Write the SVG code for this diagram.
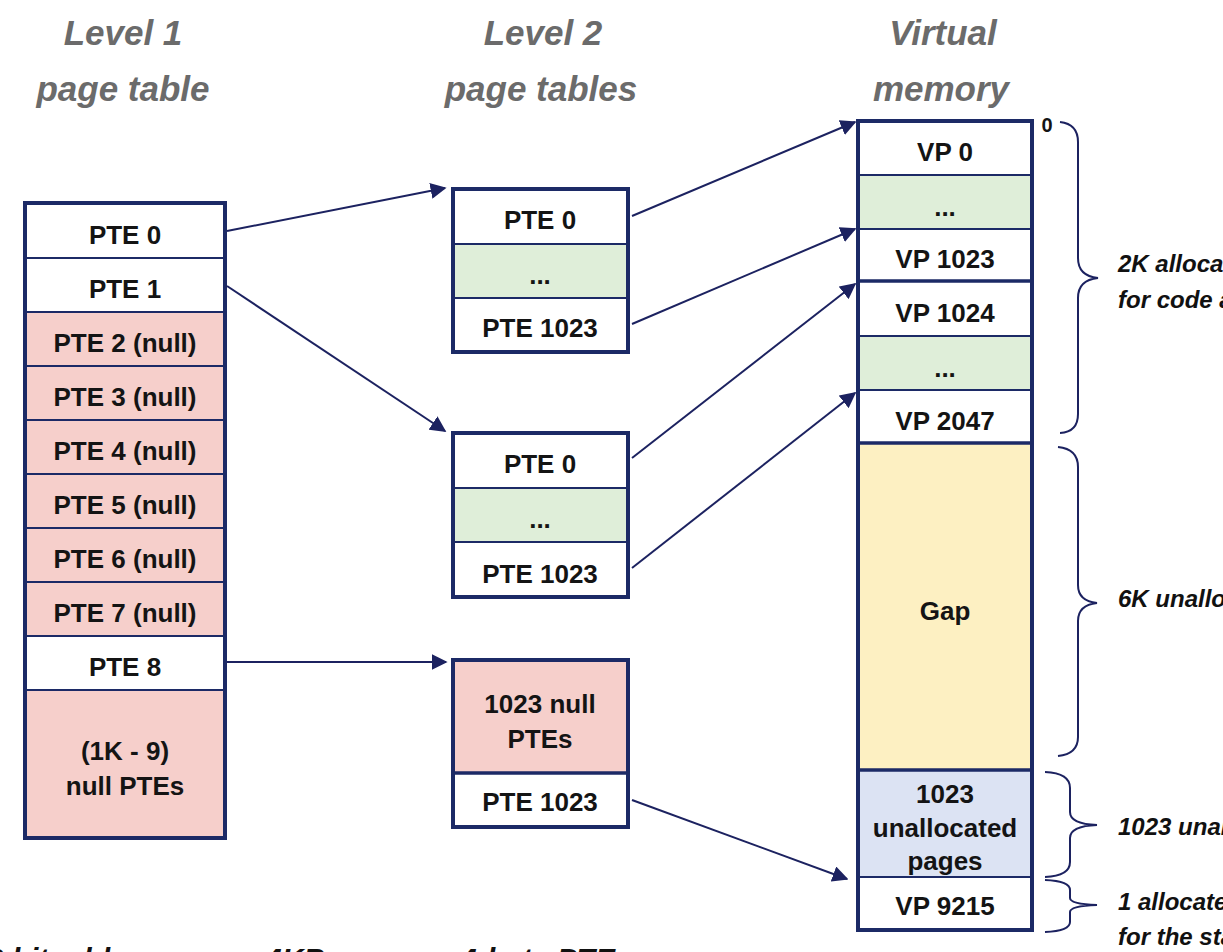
<svg xmlns="http://www.w3.org/2000/svg" width="1223" height="952" viewBox="0 0 1223 952">
<style>
.hdr{font-family:"Liberation Sans",Arial,sans-serif;font-weight:bold;font-style:italic;font-size:35px;fill:#6b6b6b;text-anchor:middle}
.t{font-family:"Liberation Sans",Arial,sans-serif;font-weight:bold;font-size:26px;fill:#141414;text-anchor:middle}
.note{font-family:"Liberation Sans",Arial,sans-serif;font-weight:bold;font-style:italic;font-size:24px;fill:#111}
.cap{font-family:"Liberation Sans",Arial,sans-serif;font-weight:bold;font-style:italic;font-size:30px;fill:#111}
.w{fill:#ffffff}
.p{fill:#f6cfcb}
.g{fill:#dfeed9}
.y{fill:#fdf0c2}
.b{fill:#dce3f3}
.div{stroke:#1c2a66;stroke-width:2}
.thick{stroke:#1c2a66;stroke-width:3.5}
.box{fill:none;stroke:#1c2a66;stroke-width:4}
.arr{stroke:#1c2260;stroke-width:2;fill:none;marker-end:url(#ah)}
.brace{stroke:#1c2260;stroke-width:2;fill:none}
</style>
<defs>
<marker id="ah" viewBox="0 0 10 10" refX="9" refY="5" markerWidth="8" markerHeight="8" markerUnits="strokeWidth" orient="auto">
<path d="M0,0 L10,5 L0,10 z" fill="#1c2260"/>
</marker>
</defs>
<rect width="1223" height="952" fill="#ffffff"/>

<g id="headers">
<text class="hdr" x="123" y="45">Level 1</text>
<text class="hdr" x="123" y="101">page table</text>
<text class="hdr" x="543" y="45">Level 2</text>
<text class="hdr" x="541" y="101">page tables</text>
<text class="hdr" x="943" y="45">Virtual</text>
<text class="hdr" x="941" y="101">memory</text>
</g>

<g id="level1">
<rect class="w" x="25" y="203" width="200" height="109"/>
<rect class="p" x="25" y="312" width="200" height="324"/>
<rect class="w" x="25" y="636" width="200" height="54"/>
<rect class="p" x="25" y="690" width="200" height="148"/>
<line class="div" x1="25" y1="258" x2="225" y2="258"/>
<line class="div" x1="25" y1="312" x2="225" y2="312"/>
<line class="div" x1="25" y1="366" x2="225" y2="366"/>
<line class="div" x1="25" y1="420" x2="225" y2="420"/>
<line class="div" x1="25" y1="474" x2="225" y2="474"/>
<line class="div" x1="25" y1="528" x2="225" y2="528"/>
<line class="div" x1="25" y1="582" x2="225" y2="582"/>
<line class="div" x1="25" y1="636" x2="225" y2="636"/>
<line class="div" x1="25" y1="690" x2="225" y2="690"/>
<rect class="box" x="25" y="203" width="200" height="635"/>
<text class="t" x="125" y="244">PTE 0</text>
<text class="t" x="125" y="298">PTE 1</text>
<text class="t" x="125" y="352">PTE 2 (null)</text>
<text class="t" x="125" y="406">PTE 3 (null)</text>
<text class="t" x="125" y="460">PTE 4 (null)</text>
<text class="t" x="125" y="514">PTE 5 (null)</text>
<text class="t" x="125" y="568">PTE 6 (null)</text>
<text class="t" x="125" y="622">PTE 7 (null)</text>
<text class="t" x="125" y="676">PTE 8</text>
<text class="t" x="125" y="760">(1K - 9)</text>
<text class="t" x="125" y="795">null PTEs</text>
</g>

<g id="level2a">
<rect class="w" x="453" y="189" width="175" height="55"/>
<rect class="g" x="453" y="244" width="175" height="54"/>
<rect class="w" x="453" y="298" width="175" height="54"/>
<line class="div" x1="453" y1="244" x2="628" y2="244"/>
<line class="div" x1="453" y1="298" x2="628" y2="298"/>
<rect class="box" x="453" y="189" width="175" height="163"/>
<text class="t" x="540" y="229">PTE 0</text>
<text class="t" x="540" y="284">...</text>
<text class="t" x="540" y="337">PTE 1023</text>
</g>

<g id="level2b">
<rect class="w" x="453" y="433" width="175" height="55"/>
<rect class="g" x="453" y="488" width="175" height="54"/>
<rect class="w" x="453" y="542" width="175" height="55"/>
<line class="div" x1="453" y1="488" x2="628" y2="488"/>
<line class="div" x1="453" y1="542" x2="628" y2="542"/>
<rect class="box" x="453" y="433" width="175" height="164"/>
<text class="t" x="540" y="473">PTE 0</text>
<text class="t" x="540" y="528">...</text>
<text class="t" x="540" y="583">PTE 1023</text>
</g>

<g id="level2c">
<rect class="p" x="453" y="660" width="175" height="113"/>
<rect class="w" x="453" y="773" width="175" height="54"/>
<line class="thick" x1="453" y1="773" x2="628" y2="773"/>
<rect class="box" x="453" y="660" width="175" height="167"/>
<text class="t" x="540" y="713">1023 null</text>
<text class="t" x="540" y="748">PTEs</text>
<text class="t" x="540" y="811">PTE 1023</text>
</g>

<g id="vm">
<rect class="w" x="858" y="121" width="174" height="54"/>
<rect class="g" x="858" y="175" width="174" height="54"/>
<rect class="w" x="858" y="229" width="174" height="107"/>
<rect class="g" x="858" y="336" width="174" height="54"/>
<rect class="w" x="858" y="390" width="174" height="53"/>
<rect class="y" x="858" y="443" width="174" height="327"/>
<rect class="b" x="858" y="770" width="174" height="107"/>
<rect class="w" x="858" y="877" width="174" height="53"/>
<line class="div" x1="858" y1="175" x2="1032" y2="175"/>
<line class="div" x1="858" y1="229" x2="1032" y2="229"/>
<line class="thick" x1="858" y1="281" x2="1032" y2="281"/>
<line class="div" x1="858" y1="336" x2="1032" y2="336"/>
<line class="div" x1="858" y1="390" x2="1032" y2="390"/>
<line class="thick" x1="858" y1="443" x2="1032" y2="443"/>
<line class="thick" x1="858" y1="770" x2="1032" y2="770"/>
<line class="div" x1="858" y1="877" x2="1032" y2="877"/>
<rect class="box" x="858" y="121" width="174" height="809"/>
<text class="t" x="945" y="161">VP 0</text>
<text class="t" x="945" y="216">...</text>
<text class="t" x="945" y="268">VP 1023</text>
<text class="t" x="945" y="322">VP 1024</text>
<text class="t" x="945" y="377">...</text>
<text class="t" x="945" y="430">VP 2047</text>
<text class="t" x="945" y="620">Gap</text>
<text class="t" x="945" y="803">1023</text>
<text class="t" x="945" y="837">unallocated</text>
<text class="t" x="945" y="870">pages</text>
<text class="t" x="945" y="915">VP 9215</text>
<text class="t" x="1047" y="132" style="font-size:20px">0</text>
</g>

<g id="connectors">
<line class="arr" x1="227" y1="231" x2="445" y2="188"/>
<line class="arr" x1="227" y1="286" x2="445" y2="431"/>
<line class="arr" x1="227" y1="662" x2="446" y2="662"/>
<line class="arr" x1="632" y1="216" x2="855" y2="122"/>
<line class="arr" x1="632" y1="324" x2="855" y2="229"/>
<line class="arr" x1="632" y1="458" x2="855" y2="284"/>
<line class="arr" x1="632" y1="568" x2="855" y2="393"/>
<line class="arr" x1="632" y1="800" x2="847" y2="879"/>
</g>

<g id="braces">
<path class="brace" d="M1060,122 Q1078,124 1078,142 L1078,258 Q1078,276 1098,278 Q1078,280 1078,298 L1078,414 Q1078,432 1060,433"/>
<path class="brace" d="M1058,447 Q1078,449 1078,467 L1078,585 Q1078,601 1097,603 Q1078,605 1078,621 L1078,737 Q1078,754 1058,756"/>
<path class="brace" d="M1045,772 Q1070,773 1070,788 L1070,812 Q1070,824 1097,825 Q1070,826 1070,838 L1070,862 Q1070,876 1045,877"/>
<path class="brace" d="M1045,880 Q1070,881 1070,890 L1070,898 Q1070,904 1097,905 Q1070,906 1070,912 L1070,922 Q1070,931 1045,932"/>
</g>

<g id="notes">
<text class="note" x="1118" y="272">2K allocated VM pages</text>
<text class="note" x="1118" y="308">for code and data</text>
<text class="note" x="1118" y="607">6K unallocated VM pages</text>
<text class="note" x="1118" y="835">1023 unallocated pages</text>
<text class="note" x="1118" y="910">1 allocated VM page</text>
<text class="note" x="1118" y="945">for the stack</text>
</g>

<g id="caption">
<text class="cap" y="969"><tspan x="-30">32 bit addresses,</tspan><tspan x="265">4KB pages,</tspan><tspan x="460">4-byte PTEs</tspan></text>
</g>
</svg>
